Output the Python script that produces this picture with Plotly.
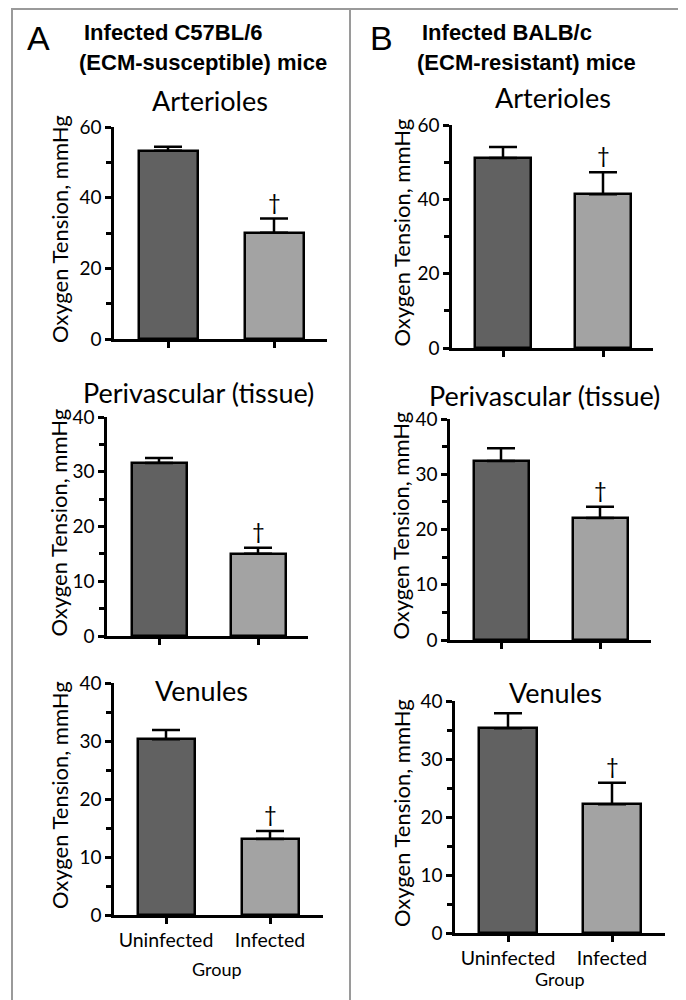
import plotly.graph_objects as go

# page body has an 8px default margin; the figure is sized so it fills the window
OFF = 8
W, H = 686 - OFF, 1000 - OFF

groups = ["Uninfected", "Infected"]
bar_colors = ["#616161", "#a3a3a3"]

a_arterioles_mean = [53.3, 30.1]
a_arterioles_sem = [1.1, 4.0]
a_perivascular_mean = [31.6, 15.0]
a_perivascular_sem = [0.9, 1.1]
a_venules_mean = [30.3, 13.1]
a_venules_sem = [1.6, 1.4]

b_arterioles_mean = [51.1, 41.4]
b_arterioles_sem = [3.0, 5.9]
b_perivascular_mean = [32.4, 22.1]
b_perivascular_sem = [2.3, 2.0]
b_venules_mean = [35.3, 22.2]
b_venules_sem = [2.6, 3.7]

panel_titles = ["Arterioles", "Perivascular (tissue)", "Venules"]
y_title = "Oxygen Tension, mmHg"
x_title = "Group"
dagger = "\u2020"

FONT = "Lato"
HFONT = "Liberation Sans"

panels = [
    dict(mean=a_arterioles_mean, sem=a_arterioles_sem, title=panel_titles[0],
         x0=114, x1=327, ytop=127, ybot=339, ymax=60, dtick=20, minor=10,
         t0=168, t1=274, bw=59, tcx=210, tcy=100, ylx=59, xlab=False),
    dict(mean=a_perivascular_mean, sem=a_perivascular_sem, title=panel_titles[1],
         x0=107, x1=308, ytop=417, ybot=636, ymax=40, dtick=10, minor=5,
         t0=159, t1=258, bw=55, tcx=198, tcy=392, ylx=58, xlab=False),
    dict(mean=a_venules_mean, sem=a_venules_sem, title=panel_titles[2],
         x0=114, x1=323, ytop=683, ybot=915, ymax=40, dtick=10, minor=5,
         t0=166, t1=270, bw=57, tcx=201, tcy=690, ylx=59, xlab=True, gx=217, gy=969),
    dict(mean=b_arterioles_mean, sem=b_arterioles_sem, title=panel_titles[0],
         x0=452, x1=653, ytop=125, ybot=348, ymax=60, dtick=20, minor=10,
         t0=503, t1=603, bw=56, tcx=553, tcy=97, ylx=401, xlab=False),
    dict(mean=b_perivascular_mean, sem=b_perivascular_sem, title=panel_titles[1],
         x0=450, x1=651, ytop=419, ybot=640, ymax=40, dtick=10, minor=5,
         t0=501, t1=600, bw=55, tcx=544, tcy=395, ylx=400, xlab=False),
    dict(mean=b_venules_mean, sem=b_venules_sem, title=panel_titles[2],
         x0=455, x1=665, ytop=701, ybot=933, ymax=40, dtick=10, minor=5,
         t0=508, t1=612, bw=58, tcx=555, tcy=692, ylx=401, xlab=True, gx=560, gy=979),
]

def px(x):
    return (x - OFF) / W

def py(y):
    return 1 - (y - OFF) / H

fig = go.Figure()
annotations = []
layout_axes = {}

for i, p in enumerate(panels, start=1):
    s = p["t1"] - p["t0"]
    xr = [-(p["t0"] - p["x0"]) / s, 1 + (p["x1"] - p["t1"]) / s]
    bw = p["bw"] / s
    xa = "x" if i == 1 else f"x{i}"
    ya = "y" if i == 1 else f"y{i}"
    fig.add_trace(go.Bar(
        x=groups, y=p["mean"], width=[bw, bw],
        marker=dict(color=bar_colors, line=dict(color="black", width=2.5)),
        error_y=dict(type="data", array=p["sem"], arrayminus=[0, 0], symmetric=False,
                     color="black", thickness=2.5, width=14),
        xaxis=xa, yaxis=ya, showlegend=False, hoverinfo="skip",
    ))
    xkey = "xaxis" if i == 1 else f"xaxis{i}"
    ykey = "yaxis" if i == 1 else f"yaxis{i}"
    layout_axes[xkey] = dict(
        domain=[px(p["x0"]), px(p["x1"])], anchor=ya, type="category",
        range=xr, showgrid=False, zeroline=False, showline=True,
        linecolor="black", linewidth=2.5, ticks="outside", ticklen=6,
        tickwidth=2.5, tickcolor="black", showticklabels=p["xlab"],
        tickfont=dict(family=FONT, size=19.5, color="black"), fixedrange=True,
        automargin=False,
    )
    layout_axes[ykey] = dict(
        domain=[py(p["ybot"]), py(p["ytop"])], anchor=xa,
        range=[0, p["ymax"]], dtick=p["dtick"], tick0=0, showgrid=False,
        zeroline=False, showline=True, linecolor="black", linewidth=2.5,
        ticks="outside", ticklen=6, tickwidth=2.5, tickcolor="black",
        minor=dict(ticks="outside", ticklen=5, tickwidth=2.5, tickcolor="black",
                   dtick=p["minor"], tick0=0, showgrid=False),
        tickfont=dict(family=FONT, size=19, color="black"), fixedrange=True,
        automargin=False,
    )
    annotations.append(dict(text=p["title"], x=px(p["tcx"]), y=py(p["tcy"]),
                            xref="paper", yref="paper", xanchor="center", yanchor="middle",
                            showarrow=False, font=dict(family=FONT, size=27, color="black")))
    annotations.append(dict(text=y_title, x=px(p["ylx"]), y=py((p["ytop"] + p["ybot"]) / 2 - 4),
                            xref="paper", yref="paper", xanchor="center", yanchor="middle",
                            textangle=-90, showarrow=False,
                            font=dict(family=FONT, size=22, color="black")))
    annotations.append(dict(text=dagger, x=groups[1], y=p["mean"][1] + p["sem"][1],
                            xref=xa, yref=ya, xanchor="center", yanchor="bottom",
                            yshift=2, showarrow=False,
                            font=dict(family=FONT, size=22, color="black")))
    if p["xlab"]:
        annotations.append(dict(text=x_title, x=px(p["gx"]), y=py(p["gy"]),
                                xref="paper", yref="paper", xanchor="center", yanchor="middle",
                                showarrow=False, font=dict(family=FONT, size=18, color="black")))

headers = [
    ("A", 38, 38, "Infected C57BL/6", 82, "(ECM-susceptible) mice", 77),
    ("B", 381, 38, "Infected BALB/c", 420, "(ECM-resistant) mice", 415),
]
for letter, lx, ly, l1, l1x, l2, l2x in headers:
    annotations.append(dict(text=letter, x=px(lx), y=py(ly), xref="paper", yref="paper",
                            xanchor="center", yanchor="middle", showarrow=False,
                            font=dict(family=HFONT, size=34, color="black")))
    annotations.append(dict(text="<b>" + l1 + "</b>", x=px(l1x), y=py(33), xref="paper",
                            yref="paper", xanchor="left", yanchor="middle", showarrow=False,
                            font=dict(family=HFONT, size=22, color="black")))
    annotations.append(dict(text="<b>" + l2 + "</b>", x=px(l2x), y=py(63), xref="paper",
                            yref="paper", xanchor="left", yanchor="middle", showarrow=False,
                            font=dict(family=HFONT, size=22, color="black")))

shapes = [
    dict(type="rect", xref="paper", yref="paper", x0=px(12), x1=px(683), y0=py(1010), y1=py(9),
         line=dict(color="#9a9a9a", width=2), fillcolor="rgba(0,0,0,0)", layer="below"),
    dict(type="line", xref="paper", yref="paper", x0=px(350), x1=px(350), y0=py(1010), y1=py(9),
         line=dict(color="#9a9a9a", width=2), layer="below"),
]

fig.update_layout(
    width=W, height=H, margin=dict(l=0, r=0, t=0, b=0, pad=0, autoexpand=False),
    paper_bgcolor="white", plot_bgcolor="white",
    annotations=annotations, shapes=shapes, showlegend=False,
    bargap=0, **layout_axes,
)

fig.write_html("out.html", config={"displayModeBar": False})
